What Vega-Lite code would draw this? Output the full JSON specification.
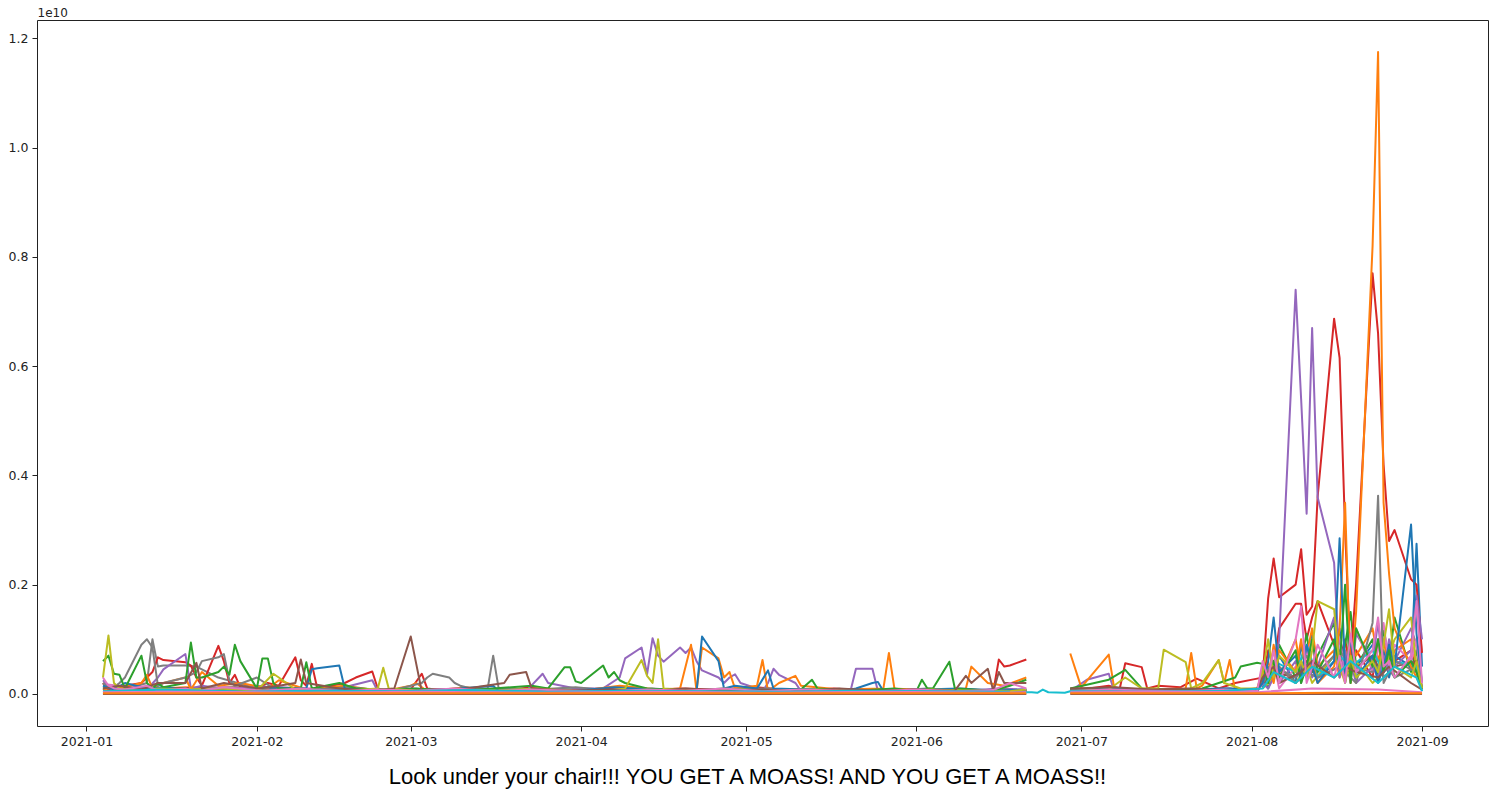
{
"$schema":"https://vega.github.io/schema/vega-lite/v6.json",
"width":1451,"height":706,
"autosize":{"type":"none"},
"padding":{"left":37,"top":20,"right":6,"bottom":64},
"background":"white",
"title":{"text":"Look under your chair!!! YOU GET A MOASS! AND YOU GET A MOASS!!","orient":"bottom","anchor":"middle","dx":-15,"offset":19,"font":"Liberation Sans","fontSize":22,"fontWeight":"normal","color":"#000"},
"config":{"view":{"stroke":"#222","strokeWidth":1},"axis":{"domain":false,"grid":false,"tickColor":"#222","tickSize":5,"labelFont":"DejaVu Sans","labelFontSize":12.5,"labelColor":"#222","labelPadding":4,"labelFlush":false,"labelOverlap":false}},
"datasets":{
"pre":[
{"s":"S","d":"2021-01-04","v":0.01},{"s":"S","d":"2021-01-08","v":0.008},{"s":"S","d":"2021-01-12","v":0.02},{"s":"S","d":"2021-01-13","v":0.1},{"s":"S","d":"2021-01-14","v":0.05},{"s":"S","d":"2021-01-15","v":0.052},{"s":"S","d":"2021-01-19","v":0.052},{"s":"S","d":"2021-01-21","v":0.05},{"s":"S","d":"2021-01-25","v":0.03},{"s":"S","d":"2021-02-01","v":0.01},{"s":"S","d":"2021-03-01","v":0.006},{"s":"S","d":"2021-04-05","v":0.008},{"s":"S","d":"2021-05-10","v":0.005},{"s":"S","d":"2021-06-21","v":0.006},
{"s":"L","d":"2021-01-04","v":0.012},{"s":"L","d":"2021-01-25","v":0.006},{"s":"L","d":"2021-02-16","v":0.01},{"s":"L","d":"2021-03-08","v":0.004},{"s":"L","d":"2021-03-29","v":0.008},{"s":"L","d":"2021-04-19","v":0.005},{"s":"L","d":"2021-05-10","v":0.009},{"s":"L","d":"2021-06-01","v":0.004},{"s":"L","d":"2021-06-21","v":0.007},
{"s":"N","d":"2021-01-04","v":0.004},{"s":"N","d":"2021-01-19","v":0.012},{"s":"N","d":"2021-02-08","v":0.005},{"s":"N","d":"2021-03-01","v":0.009},{"s":"N","d":"2021-03-22","v":0.004},{"s":"N","d":"2021-04-12","v":0.008},{"s":"N","d":"2021-05-03","v":0.004},{"s":"N","d":"2021-05-24","v":0.008},{"s":"N","d":"2021-06-14","v":0.004},{"s":"N","d":"2021-06-21","v":0.006},
{"s":"P","d":"2021-01-04","v":0.018},{"s":"P","d":"2021-01-15","v":0.006},{"s":"P","d":"2021-02-05","v":0.012},{"s":"P","d":"2021-02-26","v":0.004},{"s":"P","d":"2021-03-19","v":0.009},{"s":"P","d":"2021-04-09","v":0.005},{"s":"P","d":"2021-04-30","v":0.01},{"s":"P","d":"2021-05-21","v":0.004},{"s":"P","d":"2021-06-11","v":0.008},{"s":"P","d":"2021-06-21","v":0.004},
{"s":"R","d":"2021-01-04","v":0.008},{"s":"R","d":"2021-01-28","v":0.012},{"s":"R","d":"2021-02-18","v":0.004},{"s":"R","d":"2021-03-11","v":0.01},{"s":"R","d":"2021-04-01","v":0.005},{"s":"R","d":"2021-04-22","v":0.009},{"s":"R","d":"2021-05-13","v":0.004},{"s":"R","d":"2021-06-03","v":0.009},{"s":"R","d":"2021-06-21","v":0.005},
{"s":"T","d":"2021-01-04","v":0.01},{"s":"T","d":"2021-01-22","v":0.004},{"s":"T","d":"2021-02-12","v":0.008},{"s":"T","d":"2021-03-05","v":0.003},{"s":"T","d":"2021-03-26","v":0.007},{"s":"T","d":"2021-04-16","v":0.003},{"s":"T","d":"2021-05-07","v":0.006},{"s":"T","d":"2021-05-28","v":0.003},{"s":"T","d":"2021-06-18","v":0.006},{"s":"T","d":"2021-06-21","v":0.003},
{"s":"A","d":"2021-01-04","v":0.02},{"s":"A","d":"2021-01-05","v":0.008},{"s":"A","d":"2021-01-06","v":0.012},{"s":"A","d":"2021-01-07","v":0.006},{"s":"A","d":"2021-01-08","v":0.015},{"s":"A","d":"2021-01-11","v":0.02},{"s":"A","d":"2021-01-12","v":0.03},{"s":"A","d":"2021-01-13","v":0.04},{"s":"A","d":"2021-01-14","v":0.067},{"s":"A","d":"2021-01-15","v":0.062},{"s":"A","d":"2021-01-19","v":0.058},{"s":"A","d":"2021-01-20","v":0.052},{"s":"A","d":"2021-01-21","v":0.03},{"s":"A","d":"2021-01-22","v":0.015},{"s":"A","d":"2021-01-25","v":0.088},{"s":"A","d":"2021-01-26","v":0.06},{"s":"A","d":"2021-01-27","v":0.02},{"s":"A","d":"2021-01-28","v":0.035},{"s":"A","d":"2021-01-29","v":0.012},{"s":"A","d":"2021-02-01","v":0.01},{"s":"A","d":"2021-02-03","v":0.02},{"s":"A","d":"2021-02-05","v":0.015},{"s":"A","d":"2021-02-08","v":0.067},{"s":"A","d":"2021-02-09","v":0.025},{"s":"A","d":"2021-02-10","v":0.015},{"s":"A","d":"2021-02-11","v":0.055},{"s":"A","d":"2021-02-12","v":0.01},{"s":"A","d":"2021-02-17","v":0.02},{"s":"A","d":"2021-02-19","v":0.03},{"s":"A","d":"2021-02-22","v":0.041},{"s":"A","d":"2021-02-23","v":0.01},{"s":"A","d":"2021-02-25","v":0.006},{"s":"A","d":"2021-03-01","v":0.008},{"s":"A","d":"2021-03-03","v":0.037},{"s":"A","d":"2021-03-04","v":0.01},{"s":"A","d":"2021-03-08","v":0.005},{"s":"A","d":"2021-03-12","v":0.01},{"s":"A","d":"2021-03-17","v":0.005},{"s":"A","d":"2021-03-23","v":0.012},{"s":"A","d":"2021-03-29","v":0.006},{"s":"A","d":"2021-04-05","v":0.01},{"s":"A","d":"2021-04-12","v":0.005},{"s":"A","d":"2021-04-19","v":0.01},{"s":"A","d":"2021-04-26","v":0.008},{"s":"A","d":"2021-05-03","v":0.012},{"s":"A","d":"2021-05-10","v":0.006},{"s":"A","d":"2021-05-17","v":0.01},{"s":"A","d":"2021-05-24","v":0.005},{"s":"A","d":"2021-06-01","v":0.008},{"s":"A","d":"2021-06-07","v":0.006},{"s":"A","d":"2021-06-14","v":0.005},{"s":"A","d":"2021-06-15","v":0.005},{"s":"A","d":"2021-06-16","v":0.063},{"s":"A","d":"2021-06-17","v":0.05},{"s":"A","d":"2021-06-18","v":0.052},{"s":"A","d":"2021-06-21","v":0.063},
{"s":"B","d":"2021-01-04","v":0.025},{"s":"B","d":"2021-01-05","v":0.015},{"s":"B","d":"2021-01-06","v":0.005},{"s":"B","d":"2021-01-08","v":0.01},{"s":"B","d":"2021-01-12","v":0.008},{"s":"B","d":"2021-01-14","v":0.03},{"s":"B","d":"2021-01-15","v":0.045},{"s":"B","d":"2021-01-19","v":0.073},{"s":"B","d":"2021-01-20","v":0.01},{"s":"B","d":"2021-01-22","v":0.015},{"s":"B","d":"2021-01-27","v":0.008},{"s":"B","d":"2021-02-01","v":0.015},{"s":"B","d":"2021-02-08","v":0.006},{"s":"B","d":"2021-02-16","v":0.01},{"s":"B","d":"2021-02-22","v":0.025},{"s":"B","d":"2021-02-23","v":0.005},{"s":"B","d":"2021-03-01","v":0.01},{"s":"B","d":"2021-03-09","v":0.006},{"s":"B","d":"2021-03-16","v":0.01},{"s":"B","d":"2021-03-22","v":0.005},{"s":"B","d":"2021-03-25","v":0.037},{"s":"B","d":"2021-03-26","v":0.02},{"s":"B","d":"2021-03-31","v":0.01},{"s":"B","d":"2021-04-05","v":0.01},{"s":"B","d":"2021-04-08","v":0.03},{"s":"B","d":"2021-04-09","v":0.065},{"s":"B","d":"2021-04-12","v":0.085},{"s":"B","d":"2021-04-13","v":0.036},{"s":"B","d":"2021-04-14","v":0.102},{"s":"B","d":"2021-04-15","v":0.07},{"s":"B","d":"2021-04-16","v":0.059},{"s":"B","d":"2021-04-19","v":0.085},{"s":"B","d":"2021-04-20","v":0.075},{"s":"B","d":"2021-04-21","v":0.085},{"s":"B","d":"2021-04-22","v":0.06},{"s":"B","d":"2021-04-23","v":0.043},{"s":"B","d":"2021-04-26","v":0.03},{"s":"B","d":"2021-04-27","v":0.02},{"s":"B","d":"2021-04-28","v":0.03},{"s":"B","d":"2021-04-29","v":0.036},{"s":"B","d":"2021-04-30","v":0.02},{"s":"B","d":"2021-05-03","v":0.01},{"s":"B","d":"2021-05-04","v":0.005},{"s":"B","d":"2021-05-05","v":0.02},{"s":"B","d":"2021-05-06","v":0.046},{"s":"B","d":"2021-05-07","v":0.035},{"s":"B","d":"2021-05-10","v":0.02},{"s":"B","d":"2021-05-11","v":0.005},{"s":"B","d":"2021-05-14","v":0.01},{"s":"B","d":"2021-05-20","v":0.005},{"s":"B","d":"2021-05-21","v":0.046},{"s":"B","d":"2021-05-24","v":0.046},{"s":"B","d":"2021-05-25","v":0.005},{"s":"B","d":"2021-06-02","v":0.008},{"s":"B","d":"2021-06-09","v":0.005},{"s":"B","d":"2021-06-16","v":0.01},{"s":"B","d":"2021-06-21","v":0.008},
{"s":"C","d":"2021-01-04","v":0.01},{"s":"C","d":"2021-01-05","v":0.005},{"s":"C","d":"2021-01-07","v":0.01},{"s":"C","d":"2021-01-11","v":0.02},{"s":"C","d":"2021-01-12","v":0.035},{"s":"C","d":"2021-01-13","v":0.01},{"s":"C","d":"2021-01-15","v":0.02},{"s":"C","d":"2021-01-19","v":0.03},{"s":"C","d":"2021-01-20","v":0.008},{"s":"C","d":"2021-01-22","v":0.04},{"s":"C","d":"2021-01-25","v":0.015},{"s":"C","d":"2021-01-29","v":0.02},{"s":"C","d":"2021-02-03","v":0.01},{"s":"C","d":"2021-02-05","v":0.025},{"s":"C","d":"2021-02-10","v":0.008},{"s":"C","d":"2021-02-17","v":0.015},{"s":"C","d":"2021-02-24","v":0.005},{"s":"C","d":"2021-03-01","v":0.015},{"s":"C","d":"2021-03-02","v":0.02},{"s":"C","d":"2021-03-04","v":0.005},{"s":"C","d":"2021-03-11","v":0.012},{"s":"C","d":"2021-03-18","v":0.006},{"s":"C","d":"2021-03-25","v":0.01},{"s":"C","d":"2021-04-01","v":0.006},{"s":"C","d":"2021-04-08","v":0.015},{"s":"C","d":"2021-04-15","v":0.008},{"s":"C","d":"2021-04-19","v":0.01},{"s":"C","d":"2021-04-21","v":0.09},{"s":"C","d":"2021-04-22","v":0.005},{"s":"C","d":"2021-04-23","v":0.085},{"s":"C","d":"2021-04-26","v":0.065},{"s":"C","d":"2021-04-27","v":0.03},{"s":"C","d":"2021-04-28","v":0.04},{"s":"C","d":"2021-04-29","v":0.01},{"s":"C","d":"2021-05-03","v":0.015},{"s":"C","d":"2021-05-04","v":0.062},{"s":"C","d":"2021-05-05","v":0.005},{"s":"C","d":"2021-05-07","v":0.02},{"s":"C","d":"2021-05-10","v":0.033},{"s":"C","d":"2021-05-11","v":0.015},{"s":"C","d":"2021-05-18","v":0.008},{"s":"C","d":"2021-05-26","v":0.01},{"s":"C","d":"2021-05-27","v":0.075},{"s":"C","d":"2021-05-28","v":0.01},{"s":"C","d":"2021-06-04","v":0.006},{"s":"C","d":"2021-06-10","v":0.01},{"s":"C","d":"2021-06-11","v":0.05},{"s":"C","d":"2021-06-14","v":0.02},{"s":"C","d":"2021-06-17","v":0.015},{"s":"C","d":"2021-06-21","v":0.03},
{"s":"D","d":"2021-01-04","v":0.02},{"s":"D","d":"2021-01-05","v":0.01},{"s":"D","d":"2021-01-06","v":0.012},{"s":"D","d":"2021-01-07","v":0.02},{"s":"D","d":"2021-01-08","v":0.03},{"s":"D","d":"2021-01-11","v":0.09},{"s":"D","d":"2021-01-12","v":0.1},{"s":"D","d":"2021-01-13","v":0.085},{"s":"D","d":"2021-01-14","v":0.015},{"s":"D","d":"2021-01-15","v":0.02},{"s":"D","d":"2021-01-19","v":0.03},{"s":"D","d":"2021-01-21","v":0.04},{"s":"D","d":"2021-01-22","v":0.06},{"s":"D","d":"2021-01-25","v":0.067},{"s":"D","d":"2021-01-26","v":0.073},{"s":"D","d":"2021-01-27","v":0.025},{"s":"D","d":"2021-01-28","v":0.015},{"s":"D","d":"2021-02-01","v":0.03},{"s":"D","d":"2021-02-04","v":0.01},{"s":"D","d":"2021-02-11","v":0.008},{"s":"D","d":"2021-02-18","v":0.012},{"s":"D","d":"2021-02-25","v":0.005},{"s":"D","d":"2021-03-03","v":0.02},{"s":"D","d":"2021-03-04","v":0.03},{"s":"D","d":"2021-03-05","v":0.037},{"s":"D","d":"2021-03-08","v":0.03},{"s":"D","d":"2021-03-09","v":0.02},{"s":"D","d":"2021-03-10","v":0.015},{"s":"D","d":"2021-03-12","v":0.01},{"s":"D","d":"2021-03-15","v":0.01},{"s":"D","d":"2021-03-16","v":0.07},{"s":"D","d":"2021-03-17","v":0.01},{"s":"D","d":"2021-03-24","v":0.008},{"s":"D","d":"2021-03-31","v":0.012},{"s":"D","d":"2021-04-07","v":0.006},{"s":"D","d":"2021-04-14","v":0.01},{"s":"D","d":"2021-04-21","v":0.005},{"s":"D","d":"2021-04-28","v":0.008},{"s":"D","d":"2021-05-05","v":0.01},{"s":"D","d":"2021-05-12","v":0.006},{"s":"D","d":"2021-05-19","v":0.008},{"s":"D","d":"2021-05-26","v":0.005},{"s":"D","d":"2021-06-03","v":0.01},{"s":"D","d":"2021-06-10","v":0.006},{"s":"D","d":"2021-06-17","v":0.008},{"s":"D","d":"2021-06-21","v":0.005},
{"s":"E","d":"2021-01-04","v":0.015},{"s":"E","d":"2021-01-06","v":0.008},{"s":"E","d":"2021-01-08","v":0.02},{"s":"E","d":"2021-01-12","v":0.01},{"s":"E","d":"2021-01-15","v":0.012},{"s":"E","d":"2021-01-20","v":0.006},{"s":"E","d":"2021-01-25","v":0.01},{"s":"E","d":"2021-01-29","v":0.008},{"s":"E","d":"2021-02-03","v":0.012},{"s":"E","d":"2021-02-10","v":0.01},{"s":"E","d":"2021-02-11","v":0.045},{"s":"E","d":"2021-02-12","v":0.047},{"s":"E","d":"2021-02-16","v":0.052},{"s":"E","d":"2021-02-17","v":0.01},{"s":"E","d":"2021-02-19","v":0.008},{"s":"E","d":"2021-02-24","v":0.005},{"s":"E","d":"2021-03-03","v":0.006},{"s":"E","d":"2021-03-10","v":0.01},{"s":"E","d":"2021-03-16","v":0.015},{"s":"E","d":"2021-03-17","v":0.005},{"s":"E","d":"2021-03-24","v":0.008},{"s":"E","d":"2021-03-31","v":0.006},{"s":"E","d":"2021-04-07","v":0.012},{"s":"E","d":"2021-04-14","v":0.008},{"s":"E","d":"2021-04-21","v":0.006},{"s":"E","d":"2021-04-22","v":0.005},{"s":"E","d":"2021-04-23","v":0.105},{"s":"E","d":"2021-04-26","v":0.06},{"s":"E","d":"2021-04-27","v":0.01},{"s":"E","d":"2021-04-29","v":0.015},{"s":"E","d":"2021-05-03","v":0.01},{"s":"E","d":"2021-05-05","v":0.043},{"s":"E","d":"2021-05-06","v":0.01},{"s":"E","d":"2021-05-12","v":0.008},{"s":"E","d":"2021-05-19","v":0.006},{"s":"E","d":"2021-05-21","v":0.01},{"s":"E","d":"2021-05-24","v":0.02},{"s":"E","d":"2021-05-25","v":0.022},{"s":"E","d":"2021-05-26","v":0.005},{"s":"E","d":"2021-06-02","v":0.008},{"s":"E","d":"2021-06-09","v":0.01},{"s":"E","d":"2021-06-16","v":0.006},{"s":"E","d":"2021-06-21","v":0.008},
{"s":"F","d":"2021-01-04","v":0.06},{"s":"F","d":"2021-01-05","v":0.07},{"s":"F","d":"2021-01-06","v":0.037},{"s":"F","d":"2021-01-07","v":0.035},{"s":"F","d":"2021-01-08","v":0.01},{"s":"F","d":"2021-01-11","v":0.07},{"s":"F","d":"2021-01-12","v":0.02},{"s":"F","d":"2021-01-13","v":0.01},{"s":"F","d":"2021-01-14","v":0.02},{"s":"F","d":"2021-01-15","v":0.012},{"s":"F","d":"2021-01-19","v":0.02},{"s":"F","d":"2021-01-20","v":0.094},{"s":"F","d":"2021-01-21","v":0.03},{"s":"F","d":"2021-01-22","v":0.03},{"s":"F","d":"2021-01-25","v":0.04},{"s":"F","d":"2021-01-26","v":0.05},{"s":"F","d":"2021-01-27","v":0.035},{"s":"F","d":"2021-01-28","v":0.09},{"s":"F","d":"2021-01-29","v":0.06},{"s":"F","d":"2021-02-01","v":0.01},{"s":"F","d":"2021-02-02","v":0.065},{"s":"F","d":"2021-02-03","v":0.065},{"s":"F","d":"2021-02-04","v":0.02},{"s":"F","d":"2021-02-05","v":0.01},{"s":"F","d":"2021-02-09","v":0.01},{"s":"F","d":"2021-02-10","v":0.058},{"s":"F","d":"2021-02-11","v":0.01},{"s":"F","d":"2021-02-16","v":0.02},{"s":"F","d":"2021-02-19","v":0.01},{"s":"F","d":"2021-02-24","v":0.008},{"s":"F","d":"2021-03-02","v":0.01},{"s":"F","d":"2021-03-09","v":0.005},{"s":"F","d":"2021-03-16","v":0.01},{"s":"F","d":"2021-03-23","v":0.015},{"s":"F","d":"2021-03-26","v":0.01},{"s":"F","d":"2021-03-29","v":0.049},{"s":"F","d":"2021-03-30","v":0.049},{"s":"F","d":"2021-03-31","v":0.023},{"s":"F","d":"2021-04-01","v":0.02},{"s":"F","d":"2021-04-05","v":0.052},{"s":"F","d":"2021-04-06","v":0.03},{"s":"F","d":"2021-04-07","v":0.04},{"s":"F","d":"2021-04-08","v":0.025},{"s":"F","d":"2021-04-09","v":0.02},{"s":"F","d":"2021-04-13","v":0.01},{"s":"F","d":"2021-04-20","v":0.006},{"s":"F","d":"2021-04-27","v":0.01},{"s":"F","d":"2021-05-04","v":0.006},{"s":"F","d":"2021-05-11","v":0.008},{"s":"F","d":"2021-05-13","v":0.026},{"s":"F","d":"2021-05-14","v":0.01},{"s":"F","d":"2021-05-21","v":0.006},{"s":"F","d":"2021-05-28","v":0.01},{"s":"F","d":"2021-06-01","v":0.005},{"s":"F","d":"2021-06-02","v":0.026},{"s":"F","d":"2021-06-03","v":0.01},{"s":"F","d":"2021-06-04","v":0.01},{"s":"F","d":"2021-06-07","v":0.059},{"s":"F","d":"2021-06-08","v":0.01},{"s":"F","d":"2021-06-15","v":0.006},{"s":"F","d":"2021-06-18","v":0.015},{"s":"F","d":"2021-06-21","v":0.026},
{"s":"G","d":"2021-01-04","v":0.03},{"s":"G","d":"2021-01-05","v":0.107},{"s":"G","d":"2021-01-06","v":0.02},{"s":"G","d":"2021-01-07","v":0.01},{"s":"G","d":"2021-01-11","v":0.006},{"s":"G","d":"2021-01-14","v":0.01},{"s":"G","d":"2021-01-19","v":0.008},{"s":"G","d":"2021-01-25","v":0.01},{"s":"G","d":"2021-02-01","v":0.006},{"s":"G","d":"2021-02-04","v":0.037},{"s":"G","d":"2021-02-05","v":0.03},{"s":"G","d":"2021-02-08","v":0.008},{"s":"G","d":"2021-02-16","v":0.005},{"s":"G","d":"2021-02-23","v":0.01},{"s":"G","d":"2021-02-24","v":0.048},{"s":"G","d":"2021-02-25","v":0.01},{"s":"G","d":"2021-03-03","v":0.005},{"s":"G","d":"2021-03-10","v":0.008},{"s":"G","d":"2021-03-17","v":0.006},{"s":"G","d":"2021-03-24","v":0.01},{"s":"G","d":"2021-03-31","v":0.005},{"s":"G","d":"2021-04-05","v":0.005},{"s":"G","d":"2021-04-09","v":0.01},{"s":"G","d":"2021-04-12","v":0.062},{"s":"G","d":"2021-04-13","v":0.033},{"s":"G","d":"2021-04-14","v":0.02},{"s":"G","d":"2021-04-15","v":0.1},{"s":"G","d":"2021-04-16","v":0.01},{"s":"G","d":"2021-04-23","v":0.006},{"s":"G","d":"2021-04-30","v":0.008},{"s":"G","d":"2021-05-07","v":0.005},{"s":"G","d":"2021-05-14","v":0.008},{"s":"G","d":"2021-05-21","v":0.006},{"s":"G","d":"2021-05-28","v":0.005},{"s":"G","d":"2021-06-04","v":0.008},{"s":"G","d":"2021-06-11","v":0.006},{"s":"G","d":"2021-06-18","v":0.005},{"s":"G","d":"2021-06-21","v":0.008},
{"s":"H","d":"2021-01-04","v":0.01},{"s":"H","d":"2021-01-07","v":0.015},{"s":"H","d":"2021-01-11","v":0.008},{"s":"H","d":"2021-01-14","v":0.02},{"s":"H","d":"2021-01-19","v":0.02},{"s":"H","d":"2021-01-21","v":0.057},{"s":"H","d":"2021-01-22","v":0.01},{"s":"H","d":"2021-01-26","v":0.02},{"s":"H","d":"2021-02-01","v":0.01},{"s":"H","d":"2021-02-05","v":0.015},{"s":"H","d":"2021-02-08","v":0.02},{"s":"H","d":"2021-02-09","v":0.063},{"s":"H","d":"2021-02-10","v":0.02},{"s":"H","d":"2021-02-16","v":0.01},{"s":"H","d":"2021-02-22","v":0.006},{"s":"H","d":"2021-02-26","v":0.01},{"s":"H","d":"2021-03-01","v":0.105},{"s":"H","d":"2021-03-02","v":0.055},{"s":"H","d":"2021-03-03","v":0.005},{"s":"H","d":"2021-03-10","v":0.008},{"s":"H","d":"2021-03-18","v":0.02},{"s":"H","d":"2021-03-19","v":0.035},{"s":"H","d":"2021-03-22","v":0.04},{"s":"H","d":"2021-03-23","v":0.01},{"s":"H","d":"2021-03-30","v":0.006},{"s":"H","d":"2021-04-06","v":0.008},{"s":"H","d":"2021-04-13","v":0.005},{"s":"H","d":"2021-04-20","v":0.01},{"s":"H","d":"2021-04-27","v":0.006},{"s":"H","d":"2021-05-04","v":0.008},{"s":"H","d":"2021-05-11","v":0.005},{"s":"H","d":"2021-05-18","v":0.01},{"s":"H","d":"2021-05-25","v":0.006},{"s":"H","d":"2021-06-01","v":0.008},{"s":"H","d":"2021-06-08","v":0.006},{"s":"H","d":"2021-06-10","v":0.033},{"s":"H","d":"2021-06-11","v":0.02},{"s":"H","d":"2021-06-14","v":0.046},{"s":"H","d":"2021-06-15","v":0.005},{"s":"H","d":"2021-06-16","v":0.04},{"s":"H","d":"2021-06-17","v":0.02},{"s":"H","d":"2021-06-21","v":0.02},
{"s":"I","d":"2021-01-04","v":0.03},{"s":"I","d":"2021-01-05","v":0.015},{"s":"I","d":"2021-01-06","v":0.01},{"s":"I","d":"2021-01-08","v":0.008},{"s":"I","d":"2021-01-12","v":0.015},{"s":"I","d":"2021-01-14","v":0.006},{"s":"I","d":"2021-01-19","v":0.01},{"s":"I","d":"2021-01-21","v":0.005},{"s":"I","d":"2021-01-26","v":0.012},{"s":"I","d":"2021-02-02","v":0.006},{"s":"I","d":"2021-02-09","v":0.01},{"s":"I","d":"2021-02-16","v":0.005},{"s":"I","d":"2021-02-23","v":0.008},{"s":"I","d":"2021-03-02","v":0.006},{"s":"I","d":"2021-03-09","v":0.01},{"s":"I","d":"2021-03-16","v":0.005},{"s":"I","d":"2021-03-23","v":0.008},{"s":"I","d":"2021-03-30","v":0.006},{"s":"I","d":"2021-04-06","v":0.005},{"s":"I","d":"2021-04-13","v":0.008},{"s":"I","d":"2021-04-20","v":0.006},{"s":"I","d":"2021-04-27","v":0.01},{"s":"I","d":"2021-05-04","v":0.005},{"s":"I","d":"2021-05-11","v":0.008},{"s":"I","d":"2021-05-18","v":0.006},{"s":"I","d":"2021-05-25","v":0.005},{"s":"I","d":"2021-06-01","v":0.008},{"s":"I","d":"2021-06-08","v":0.005},{"s":"I","d":"2021-06-15","v":0.007},{"s":"I","d":"2021-06-18","v":0.02},{"s":"I","d":"2021-06-21","v":0.01},
{"s":"J","d":"2021-01-04","v":0.005},{"s":"J","d":"2021-01-15","v":0.008},{"s":"J","d":"2021-01-29","v":0.004},{"s":"J","d":"2021-02-12","v":0.006},{"s":"J","d":"2021-02-26","v":0.005},{"s":"J","d":"2021-03-12","v":0.007},{"s":"J","d":"2021-03-26","v":0.004},{"s":"J","d":"2021-04-09","v":0.006},{"s":"J","d":"2021-04-23","v":0.005},{"s":"J","d":"2021-05-07","v":0.004},{"s":"J","d":"2021-05-21","v":0.006},{"s":"J","d":"2021-06-04","v":0.005},{"s":"J","d":"2021-06-18","v":0.004},
{"s":"V","d":"2021-01-04","v":0.0},{"s":"V","d":"2021-03-01","v":0.0},{"s":"V","d":"2021-06-21","v":0.0},
{"s":"W","d":"2021-01-04","v":0.003},{"s":"W","d":"2021-01-20","v":0.004},{"s":"W","d":"2021-02-10","v":0.002},{"s":"W","d":"2021-03-03","v":0.004},{"s":"W","d":"2021-03-24","v":0.002},{"s":"W","d":"2021-04-14","v":0.004},{"s":"W","d":"2021-05-05","v":0.002},{"s":"W","d":"2021-05-26","v":0.004},{"s":"W","d":"2021-06-16","v":0.002},{"s":"W","d":"2021-06-21","v":0.003},
{"s":"U","d":"2021-01-04","v":0.001},{"s":"U","d":"2021-02-01","v":0.001},{"s":"U","d":"2021-03-01","v":0.001},{"s":"U","d":"2021-04-01","v":0.001},{"s":"U","d":"2021-05-03","v":0.001},{"s":"U","d":"2021-06-01","v":0.001},{"s":"U","d":"2021-06-21","v":0.001}
],
"post":[
{"s":"K","d":"2021-08-03","v":0.02},{"s":"K","d":"2021-08-04","v":0.08},{"s":"K","d":"2021-08-05","v":0.05},{"s":"K","d":"2021-08-06","v":0.12},{"s":"K","d":"2021-08-09","v":0.165},{"s":"K","d":"2021-08-10","v":0.165},{"s":"K","d":"2021-08-11","v":0.1},{"s":"K","d":"2021-08-12","v":0.14},{"s":"K","d":"2021-08-13","v":0.17},{"s":"K","d":"2021-08-16","v":0.09},{"s":"K","d":"2021-08-17","v":0.06},{"s":"K","d":"2021-08-18","v":0.1},{"s":"K","d":"2021-08-19","v":0.04},{"s":"K","d":"2021-08-20","v":0.08},{"s":"K","d":"2021-08-23","v":0.03},{"s":"K","d":"2021-08-24","v":0.1},{"s":"K","d":"2021-08-25","v":0.05},{"s":"K","d":"2021-08-26","v":0.09},{"s":"K","d":"2021-08-27","v":0.06},{"s":"K","d":"2021-08-30","v":0.08},{"s":"K","d":"2021-08-31","v":0.04},{"s":"K","d":"2021-09-01","v":0.01},
{"s":"L","d":"2021-06-29","v":0.006},{"s":"L","d":"2021-07-20","v":0.008},{"s":"L","d":"2021-08-02","v":0.005},{"s":"L","d":"2021-08-03","v":0.03},{"s":"L","d":"2021-08-04","v":0.01},{"s":"L","d":"2021-08-05","v":0.04},{"s":"L","d":"2021-08-06","v":0.09},{"s":"L","d":"2021-08-09","v":0.03},{"s":"L","d":"2021-08-10","v":0.06},{"s":"L","d":"2021-08-11","v":0.11},{"s":"L","d":"2021-08-12","v":0.04},{"s":"L","d":"2021-08-13","v":0.07},{"s":"L","d":"2021-08-16","v":0.13},{"s":"L","d":"2021-08-17","v":0.04},{"s":"L","d":"2021-08-18","v":0.09},{"s":"L","d":"2021-08-19","v":0.15},{"s":"L","d":"2021-08-20","v":0.05},{"s":"L","d":"2021-08-23","v":0.1},{"s":"L","d":"2021-08-24","v":0.03},{"s":"L","d":"2021-08-25","v":0.12},{"s":"L","d":"2021-08-26","v":0.06},{"s":"L","d":"2021-08-27","v":0.14},{"s":"L","d":"2021-08-30","v":0.04},{"s":"L","d":"2021-08-31","v":0.08},{"s":"L","d":"2021-09-01","v":0.01},
{"s":"M","d":"2021-08-03","v":0.01},{"s":"M","d":"2021-08-04","v":0.05},{"s":"M","d":"2021-08-05","v":0.03},{"s":"M","d":"2021-08-06","v":0.07},{"s":"M","d":"2021-08-09","v":0.02},{"s":"M","d":"2021-08-10","v":0.09},{"s":"M","d":"2021-08-11","v":0.04},{"s":"M","d":"2021-08-12","v":0.11},{"s":"M","d":"2021-08-13","v":0.03},{"s":"M","d":"2021-08-16","v":0.07},{"s":"M","d":"2021-08-17","v":0.12},{"s":"M","d":"2021-08-18","v":0.02},{"s":"M","d":"2021-08-19","v":0.08},{"s":"M","d":"2021-08-20","v":0.05},{"s":"M","d":"2021-08-23","v":0.09},{"s":"M","d":"2021-08-24","v":0.04},{"s":"M","d":"2021-08-25","v":0.08},{"s":"M","d":"2021-08-26","v":0.03},{"s":"M","d":"2021-08-27","v":0.07},{"s":"M","d":"2021-08-30","v":0.05},{"s":"M","d":"2021-08-31","v":0.275},{"s":"M","d":"2021-09-01","v":0.05},
{"s":"N","d":"2021-06-29","v":0.004},{"s":"N","d":"2021-07-14","v":0.009},{"s":"N","d":"2021-08-02","v":0.006},{"s":"N","d":"2021-08-03","v":0.05},{"s":"N","d":"2021-08-04","v":0.02},{"s":"N","d":"2021-08-05","v":0.09},{"s":"N","d":"2021-08-06","v":0.03},{"s":"N","d":"2021-08-09","v":0.1},{"s":"N","d":"2021-08-10","v":0.04},{"s":"N","d":"2021-08-11","v":0.07},{"s":"N","d":"2021-08-12","v":0.12},{"s":"N","d":"2021-08-13","v":0.05},{"s":"N","d":"2021-08-16","v":0.08},{"s":"N","d":"2021-08-17","v":0.03},{"s":"N","d":"2021-08-18","v":0.06},{"s":"N","d":"2021-08-19","v":0.1},{"s":"N","d":"2021-08-20","v":0.07},{"s":"N","d":"2021-08-23","v":0.12},{"s":"N","d":"2021-08-24","v":0.06},{"s":"N","d":"2021-08-25","v":0.1},{"s":"N","d":"2021-08-26","v":0.04},{"s":"N","d":"2021-08-27","v":0.08},{"s":"N","d":"2021-08-30","v":0.1},{"s":"N","d":"2021-08-31","v":0.05},{"s":"N","d":"2021-09-01","v":0.01},
{"s":"O","d":"2021-08-03","v":0.02},{"s":"O","d":"2021-08-05","v":0.05},{"s":"O","d":"2021-08-06","v":0.02},{"s":"O","d":"2021-08-09","v":0.06},{"s":"O","d":"2021-08-10","v":0.02},{"s":"O","d":"2021-08-11","v":0.08},{"s":"O","d":"2021-08-12","v":0.03},{"s":"O","d":"2021-08-13","v":0.05},{"s":"O","d":"2021-08-16","v":0.14},{"s":"O","d":"2021-08-17","v":0.03},{"s":"O","d":"2021-08-18","v":0.08},{"s":"O","d":"2021-08-19","v":0.02},{"s":"O","d":"2021-08-20","v":0.11},{"s":"O","d":"2021-08-23","v":0.06},{"s":"O","d":"2021-08-24","v":0.13},{"s":"O","d":"2021-08-25","v":0.04},{"s":"O","d":"2021-08-26","v":0.1},{"s":"O","d":"2021-08-27","v":0.06},{"s":"O","d":"2021-08-30","v":0.12},{"s":"O","d":"2021-08-31","v":0.09},{"s":"O","d":"2021-09-01","v":0.02},
{"s":"P","d":"2021-06-29","v":0.005},{"s":"P","d":"2021-07-16","v":0.007},{"s":"P","d":"2021-08-02","v":0.004},{"s":"P","d":"2021-08-03","v":0.04},{"s":"P","d":"2021-08-04","v":0.02},{"s":"P","d":"2021-08-05","v":0.06},{"s":"P","d":"2021-08-06","v":0.01},{"s":"P","d":"2021-08-09","v":0.05},{"s":"P","d":"2021-08-10","v":0.03},{"s":"P","d":"2021-08-11","v":0.07},{"s":"P","d":"2021-08-12","v":0.1},{"s":"P","d":"2021-08-13","v":0.02},{"s":"P","d":"2021-08-16","v":0.06},{"s":"P","d":"2021-08-17","v":0.1},{"s":"P","d":"2021-08-18","v":0.04},{"s":"P","d":"2021-08-19","v":0.07},{"s":"P","d":"2021-08-20","v":0.12},{"s":"P","d":"2021-08-23","v":0.04},{"s":"P","d":"2021-08-24","v":0.08},{"s":"P","d":"2021-08-25","v":0.13},{"s":"P","d":"2021-08-26","v":0.05},{"s":"P","d":"2021-08-27","v":0.09},{"s":"P","d":"2021-08-30","v":0.06},{"s":"P","d":"2021-08-31","v":0.1},{"s":"P","d":"2021-09-01","v":0.01},
{"s":"Q","d":"2021-08-03","v":0.01},{"s":"Q","d":"2021-08-05","v":0.03},{"s":"Q","d":"2021-08-06","v":0.05},{"s":"Q","d":"2021-08-09","v":0.02},{"s":"Q","d":"2021-08-11","v":0.05},{"s":"Q","d":"2021-08-12","v":0.02},{"s":"Q","d":"2021-08-16","v":0.07},{"s":"Q","d":"2021-08-18","v":0.03},{"s":"Q","d":"2021-08-20","v":0.06},{"s":"Q","d":"2021-08-23","v":0.02},{"s":"Q","d":"2021-08-25","v":0.04},{"s":"Q","d":"2021-08-27","v":0.1},{"s":"Q","d":"2021-08-30","v":0.14},{"s":"Q","d":"2021-08-31","v":0.05},{"s":"Q","d":"2021-09-01","v":0.01},
{"s":"R","d":"2021-06-29","v":0.007},{"s":"R","d":"2021-07-22","v":0.005},{"s":"R","d":"2021-08-02","v":0.006},{"s":"R","d":"2021-08-03","v":0.02},{"s":"R","d":"2021-08-05","v":0.04},{"s":"R","d":"2021-08-09","v":0.03},{"s":"R","d":"2021-08-11","v":0.06},{"s":"R","d":"2021-08-13","v":0.03},{"s":"R","d":"2021-08-17","v":0.05},{"s":"R","d":"2021-08-19","v":0.04},{"s":"R","d":"2021-08-23","v":0.07},{"s":"R","d":"2021-08-25","v":0.03},{"s":"R","d":"2021-08-27","v":0.05},{"s":"R","d":"2021-08-31","v":0.06},{"s":"R","d":"2021-09-01","v":0.01},
{"s":"S","d":"2021-06-29","v":0.005},{"s":"S","d":"2021-07-19","v":0.008},{"s":"S","d":"2021-08-02","v":0.004},{"s":"S","d":"2021-08-03","v":0.02},{"s":"S","d":"2021-08-05","v":0.05},{"s":"S","d":"2021-08-09","v":0.03},{"s":"S","d":"2021-08-11","v":0.07},{"s":"S","d":"2021-08-13","v":0.04},{"s":"S","d":"2021-08-17","v":0.08},{"s":"S","d":"2021-08-19","v":0.05},{"s":"S","d":"2021-08-23","v":0.04},{"s":"S","d":"2021-08-25","v":0.06},{"s":"S","d":"2021-08-27","v":0.03},{"s":"S","d":"2021-08-31","v":0.05},{"s":"S","d":"2021-09-01","v":0.01},
{"s":"T","d":"2021-06-29","v":0.003},{"s":"T","d":"2021-07-12","v":0.006},{"s":"T","d":"2021-08-02","v":0.004},{"s":"T","d":"2021-08-03","v":0.03},{"s":"T","d":"2021-08-05","v":0.06},{"s":"T","d":"2021-08-09","v":0.04},{"s":"T","d":"2021-08-11","v":0.09},{"s":"T","d":"2021-08-13","v":0.03},{"s":"T","d":"2021-08-17","v":0.07},{"s":"T","d":"2021-08-19","v":0.05},{"s":"T","d":"2021-08-23","v":0.08},{"s":"T","d":"2021-08-25","v":0.04},{"s":"T","d":"2021-08-27","v":0.06},{"s":"T","d":"2021-08-31","v":0.05},{"s":"T","d":"2021-09-01","v":0.005},
{"s":"A","d":"2021-06-29","v":0.01},{"s":"A","d":"2021-07-01","v":0.008},{"s":"A","d":"2021-07-06","v":0.015},{"s":"A","d":"2021-07-08","v":0.01},{"s":"A","d":"2021-07-09","v":0.056},{"s":"A","d":"2021-07-12","v":0.049},{"s":"A","d":"2021-07-13","v":0.01},{"s":"A","d":"2021-07-15","v":0.015},{"s":"A","d":"2021-07-19","v":0.012},{"s":"A","d":"2021-07-22","v":0.028},{"s":"A","d":"2021-07-26","v":0.01},{"s":"A","d":"2021-07-29","v":0.02},{"s":"A","d":"2021-08-02","v":0.028},{"s":"A","d":"2021-08-03","v":0.03},{"s":"A","d":"2021-08-04","v":0.175},{"s":"A","d":"2021-08-05","v":0.248},{"s":"A","d":"2021-08-06","v":0.177},{"s":"A","d":"2021-08-09","v":0.2},{"s":"A","d":"2021-08-10","v":0.265},{"s":"A","d":"2021-08-11","v":0.145},{"s":"A","d":"2021-08-12","v":0.16},{"s":"A","d":"2021-08-13","v":0.36},{"s":"A","d":"2021-08-16","v":0.687},{"s":"A","d":"2021-08-17","v":0.615},{"s":"A","d":"2021-08-18","v":0.3},{"s":"A","d":"2021-08-19","v":0.06},{"s":"A","d":"2021-08-20","v":0.2},{"s":"A","d":"2021-08-23","v":0.77},{"s":"A","d":"2021-08-24","v":0.66},{"s":"A","d":"2021-08-25","v":0.42},{"s":"A","d":"2021-08-26","v":0.28},{"s":"A","d":"2021-08-27","v":0.3},{"s":"A","d":"2021-08-30","v":0.21},{"s":"A","d":"2021-08-31","v":0.2},{"s":"A","d":"2021-09-01","v":0.075},
{"s":"B","d":"2021-06-29","v":0.005},{"s":"B","d":"2021-07-02","v":0.026},{"s":"B","d":"2021-07-06","v":0.037},{"s":"B","d":"2021-07-07","v":0.005},{"s":"B","d":"2021-07-14","v":0.008},{"s":"B","d":"2021-07-21","v":0.006},{"s":"B","d":"2021-07-28","v":0.01},{"s":"B","d":"2021-08-02","v":0.005},{"s":"B","d":"2021-08-03","v":0.02},{"s":"B","d":"2021-08-04","v":0.01},{"s":"B","d":"2021-08-05","v":0.03},{"s":"B","d":"2021-08-06","v":0.1},{"s":"B","d":"2021-08-09","v":0.74},{"s":"B","d":"2021-08-10","v":0.54},{"s":"B","d":"2021-08-11","v":0.33},{"s":"B","d":"2021-08-12","v":0.67},{"s":"B","d":"2021-08-13","v":0.36},{"s":"B","d":"2021-08-16","v":0.24},{"s":"B","d":"2021-08-17","v":0.05},{"s":"B","d":"2021-08-18","v":0.03},{"s":"B","d":"2021-08-19","v":0.06},{"s":"B","d":"2021-08-20","v":0.02},{"s":"B","d":"2021-08-23","v":0.05},{"s":"B","d":"2021-08-24","v":0.03},{"s":"B","d":"2021-08-25","v":0.07},{"s":"B","d":"2021-08-26","v":0.04},{"s":"B","d":"2021-08-27","v":0.05},{"s":"B","d":"2021-08-30","v":0.08},{"s":"B","d":"2021-08-31","v":0.18},{"s":"B","d":"2021-09-01","v":0.1},
{"s":"C","d":"2021-06-29","v":0.074},{"s":"C","d":"2021-07-01","v":0.012},{"s":"C","d":"2021-07-06","v":0.072},{"s":"C","d":"2021-07-07","v":0.01},{"s":"C","d":"2021-07-13","v":0.008},{"s":"C","d":"2021-07-20","v":0.01},{"s":"C","d":"2021-07-21","v":0.075},{"s":"C","d":"2021-07-22","v":0.01},{"s":"C","d":"2021-07-23","v":0.015},{"s":"C","d":"2021-07-26","v":0.062},{"s":"C","d":"2021-07-27","v":0.02},{"s":"C","d":"2021-07-28","v":0.062},{"s":"C","d":"2021-07-29","v":0.005},{"s":"C","d":"2021-08-02","v":0.01},{"s":"C","d":"2021-08-03","v":0.03},{"s":"C","d":"2021-08-04","v":0.06},{"s":"C","d":"2021-08-05","v":0.02},{"s":"C","d":"2021-08-06","v":0.08},{"s":"C","d":"2021-08-09","v":0.04},{"s":"C","d":"2021-08-10","v":0.1},{"s":"C","d":"2021-08-11","v":0.03},{"s":"C","d":"2021-08-12","v":0.06},{"s":"C","d":"2021-08-13","v":0.02},{"s":"C","d":"2021-08-16","v":0.05},{"s":"C","d":"2021-08-17","v":0.12},{"s":"C","d":"2021-08-18","v":0.35},{"s":"C","d":"2021-08-19","v":0.02},{"s":"C","d":"2021-08-20","v":0.15},{"s":"C","d":"2021-08-23","v":0.82},{"s":"C","d":"2021-08-24","v":1.175},{"s":"C","d":"2021-08-25","v":0.35},{"s":"C","d":"2021-08-26","v":0.22},{"s":"C","d":"2021-08-27","v":0.12},{"s":"C","d":"2021-08-30","v":0.05},{"s":"C","d":"2021-08-31","v":0.03},{"s":"C","d":"2021-09-01","v":0.01},
{"s":"D","d":"2021-06-29","v":0.008},{"s":"D","d":"2021-07-07","v":0.01},{"s":"D","d":"2021-07-14","v":0.006},{"s":"D","d":"2021-07-21","v":0.008},{"s":"D","d":"2021-07-28","v":0.01},{"s":"D","d":"2021-08-02","v":0.005},{"s":"D","d":"2021-08-03","v":0.03},{"s":"D","d":"2021-08-05","v":0.06},{"s":"D","d":"2021-08-09","v":0.02},{"s":"D","d":"2021-08-11","v":0.04},{"s":"D","d":"2021-08-13","v":0.03},{"s":"D","d":"2021-08-17","v":0.05},{"s":"D","d":"2021-08-19","v":0.03},{"s":"D","d":"2021-08-20","v":0.02},{"s":"D","d":"2021-08-23","v":0.13},{"s":"D","d":"2021-08-24","v":0.363},{"s":"D","d":"2021-08-25","v":0.02},{"s":"D","d":"2021-08-27","v":0.06},{"s":"D","d":"2021-08-31","v":0.04},{"s":"D","d":"2021-09-01","v":0.01},
{"s":"E","d":"2021-06-29","v":0.005},{"s":"E","d":"2021-07-06","v":0.01},{"s":"E","d":"2021-07-13","v":0.006},{"s":"E","d":"2021-07-20","v":0.008},{"s":"E","d":"2021-07-27","v":0.01},{"s":"E","d":"2021-08-02","v":0.008},{"s":"E","d":"2021-08-03","v":0.02},{"s":"E","d":"2021-08-04","v":0.06},{"s":"E","d":"2021-08-05","v":0.14},{"s":"E","d":"2021-08-06","v":0.04},{"s":"E","d":"2021-08-09","v":0.07},{"s":"E","d":"2021-08-10","v":0.03},{"s":"E","d":"2021-08-11","v":0.09},{"s":"E","d":"2021-08-12","v":0.05},{"s":"E","d":"2021-08-13","v":0.02},{"s":"E","d":"2021-08-16","v":0.06},{"s":"E","d":"2021-08-17","v":0.285},{"s":"E","d":"2021-08-18","v":0.04},{"s":"E","d":"2021-08-19","v":0.1},{"s":"E","d":"2021-08-20","v":0.03},{"s":"E","d":"2021-08-23","v":0.07},{"s":"E","d":"2021-08-24","v":0.02},{"s":"E","d":"2021-08-25","v":0.05},{"s":"E","d":"2021-08-26","v":0.09},{"s":"E","d":"2021-08-27","v":0.05},{"s":"E","d":"2021-08-30","v":0.31},{"s":"E","d":"2021-08-31","v":0.11},{"s":"E","d":"2021-09-01","v":0.02},
{"s":"F","d":"2021-06-29","v":0.01},{"s":"F","d":"2021-07-06","v":0.026},{"s":"F","d":"2021-07-09","v":0.044},{"s":"F","d":"2021-07-12","v":0.01},{"s":"F","d":"2021-07-16","v":0.008},{"s":"F","d":"2021-07-23","v":0.01},{"s":"F","d":"2021-07-29","v":0.03},{"s":"F","d":"2021-07-30","v":0.05},{"s":"F","d":"2021-08-02","v":0.057},{"s":"F","d":"2021-08-03","v":0.055},{"s":"F","d":"2021-08-04","v":0.02},{"s":"F","d":"2021-08-05","v":0.06},{"s":"F","d":"2021-08-06","v":0.03},{"s":"F","d":"2021-08-09","v":0.08},{"s":"F","d":"2021-08-10","v":0.02},{"s":"F","d":"2021-08-11","v":0.05},{"s":"F","d":"2021-08-12","v":0.1},{"s":"F","d":"2021-08-13","v":0.04},{"s":"F","d":"2021-08-16","v":0.1},{"s":"F","d":"2021-08-17","v":0.05},{"s":"F","d":"2021-08-18","v":0.2},{"s":"F","d":"2021-08-19","v":0.02},{"s":"F","d":"2021-08-20","v":0.12},{"s":"F","d":"2021-08-23","v":0.05},{"s":"F","d":"2021-08-24","v":0.1},{"s":"F","d":"2021-08-25","v":0.04},{"s":"F","d":"2021-08-26","v":0.08},{"s":"F","d":"2021-08-27","v":0.03},{"s":"F","d":"2021-08-30","v":0.06},{"s":"F","d":"2021-08-31","v":0.04},{"s":"F","d":"2021-09-01","v":0.01},
{"s":"G","d":"2021-06-29","v":0.005},{"s":"G","d":"2021-07-06","v":0.008},{"s":"G","d":"2021-07-09","v":0.03},{"s":"G","d":"2021-07-12","v":0.01},{"s":"G","d":"2021-07-15","v":0.01},{"s":"G","d":"2021-07-16","v":0.081},{"s":"G","d":"2021-07-20","v":0.058},{"s":"G","d":"2021-07-21","v":0.01},{"s":"G","d":"2021-07-23","v":0.02},{"s":"G","d":"2021-07-26","v":0.062},{"s":"G","d":"2021-07-27","v":0.02},{"s":"G","d":"2021-07-30","v":0.01},{"s":"G","d":"2021-08-02","v":0.01},{"s":"G","d":"2021-08-03","v":0.04},{"s":"G","d":"2021-08-04","v":0.1},{"s":"G","d":"2021-08-05","v":0.03},{"s":"G","d":"2021-08-06","v":0.07},{"s":"G","d":"2021-08-09","v":0.04},{"s":"G","d":"2021-08-10","v":0.06},{"s":"G","d":"2021-08-11","v":0.03},{"s":"G","d":"2021-08-12","v":0.08},{"s":"G","d":"2021-08-13","v":0.17},{"s":"G","d":"2021-08-16","v":0.155},{"s":"G","d":"2021-08-17","v":0.05},{"s":"G","d":"2021-08-18","v":0.02},{"s":"G","d":"2021-08-19","v":0.07},{"s":"G","d":"2021-08-20","v":0.03},{"s":"G","d":"2021-08-23","v":0.06},{"s":"G","d":"2021-08-24","v":0.04},{"s":"G","d":"2021-08-25","v":0.09},{"s":"G","d":"2021-08-26","v":0.155},{"s":"G","d":"2021-08-27","v":0.05},{"s":"G","d":"2021-08-30","v":0.03},{"s":"G","d":"2021-08-31","v":0.06},{"s":"G","d":"2021-09-01","v":0.01},
{"s":"H","d":"2021-06-29","v":0.01},{"s":"H","d":"2021-07-07","v":0.012},{"s":"H","d":"2021-07-14","v":0.008},{"s":"H","d":"2021-07-21","v":0.01},{"s":"H","d":"2021-07-28","v":0.006},{"s":"H","d":"2021-08-02","v":0.01},{"s":"H","d":"2021-08-03","v":0.03},{"s":"H","d":"2021-08-05","v":0.05},{"s":"H","d":"2021-08-06","v":0.02},{"s":"H","d":"2021-08-10","v":0.04},{"s":"H","d":"2021-08-12","v":0.06},{"s":"H","d":"2021-08-16","v":0.03},{"s":"H","d":"2021-08-18","v":0.05},{"s":"H","d":"2021-08-20","v":0.04},{"s":"H","d":"2021-08-24","v":0.03},{"s":"H","d":"2021-08-26","v":0.05},{"s":"H","d":"2021-08-30","v":0.02},{"s":"H","d":"2021-09-01","v":0.008},
{"s":"I","d":"2021-06-29","v":0.005},{"s":"I","d":"2021-07-06","v":0.008},{"s":"I","d":"2021-07-13","v":0.006},{"s":"I","d":"2021-07-20","v":0.005},{"s":"I","d":"2021-07-27","v":0.008},{"s":"I","d":"2021-08-02","v":0.005},{"s":"I","d":"2021-08-03","v":0.06},{"s":"I","d":"2021-08-04","v":0.03},{"s":"I","d":"2021-08-05","v":0.08},{"s":"I","d":"2021-08-06","v":0.02},{"s":"I","d":"2021-08-09","v":0.1},{"s":"I","d":"2021-08-10","v":0.16},{"s":"I","d":"2021-08-11","v":0.02},{"s":"I","d":"2021-08-12","v":0.05},{"s":"I","d":"2021-08-13","v":0.09},{"s":"I","d":"2021-08-16","v":0.03},{"s":"I","d":"2021-08-17","v":0.07},{"s":"I","d":"2021-08-18","v":0.02},{"s":"I","d":"2021-08-19","v":0.11},{"s":"I","d":"2021-08-20","v":0.04},{"s":"I","d":"2021-08-23","v":0.08},{"s":"I","d":"2021-08-24","v":0.14},{"s":"I","d":"2021-08-25","v":0.05},{"s":"I","d":"2021-08-26","v":0.06},{"s":"I","d":"2021-08-27","v":0.03},{"s":"I","d":"2021-08-30","v":0.07},{"s":"I","d":"2021-08-31","v":0.17},{"s":"I","d":"2021-09-01","v":0.02},
{"s":"J","d":"2021-06-21","v":0.003},{"s":"J","d":"2021-06-22","v":0.003},{"s":"J","d":"2021-06-23","v":0.002},{"s":"J","d":"2021-06-24","v":0.008},{"s":"J","d":"2021-06-25","v":0.003},{"s":"J","d":"2021-06-28","v":0.002},{"s":"J","d":"2021-06-29","v":0.005},{"s":"J","d":"2021-07-13","v":0.004},{"s":"J","d":"2021-07-27","v":0.006},{"s":"J","d":"2021-08-03","v":0.01},{"s":"J","d":"2021-08-05","v":0.04},{"s":"J","d":"2021-08-09","v":0.02},{"s":"J","d":"2021-08-12","v":0.05},{"s":"J","d":"2021-08-16","v":0.03},{"s":"J","d":"2021-08-19","v":0.06},{"s":"J","d":"2021-08-24","v":0.02},{"s":"J","d":"2021-08-27","v":0.05},{"s":"J","d":"2021-08-31","v":0.03},{"s":"J","d":"2021-09-01","v":0.005},
{"s":"V","d":"2021-06-29","v":0.0},{"s":"V","d":"2021-09-01","v":0.0},
{"s":"W","d":"2021-06-29","v":0.003},{"s":"W","d":"2021-07-21","v":0.004},{"s":"W","d":"2021-08-02","v":0.003},{"s":"W","d":"2021-08-12","v":0.01},{"s":"W","d":"2021-08-24","v":0.008},{"s":"W","d":"2021-09-01","v":0.003},
{"s":"U","d":"2021-06-29","v":0.001},{"s":"U","d":"2021-08-02","v":0.001},{"s":"U","d":"2021-08-16","v":0.002},{"s":"U","d":"2021-09-01","v":0.001}
]
},
"encoding":{
"x":{"field":"d","type":"temporal","scale":{"type":"utc","domain":[{"year":2020,"month":12,"date":23,"utc":true},{"year":2021,"month":9,"date":13,"utc":true}]},"axis":{"format":"%Y-%m","tickCount":{"interval":"month","step":1},"title":null}},
"y":{"field":"v","type":"quantitative","scale":{"domain":[-0.05875,1.23375],"nice":false,"zero":false},"axis":{"values":[0,0.2,0.4,0.6,0.8,1.0,1.2],"format":".1f","title":"1e10","titleAngle":0,"titleX":0,"titleY":-4,"titleAlign":"left","titleBaseline":"alphabetic","titleFont":"DejaVu Sans","titleFontSize":12,"titleFontWeight":"normal","titleColor":"#222"}},
"color":{"field":"s","type":"nominal","legend":null,"scale":{"domain":["S","K","L","M","N","O","P","Q","R","T","A","B","C","D","E","F","G","H","I","J","V","W","U"],"range":["#7f7f7f","#d62728","#2ca02c","#1f77b4","#ff7f0e","#9467bd","#e377c2","#bcbd22","#8c564b","#17becf","#d62728","#9467bd","#ff7f0e","#7f7f7f","#1f77b4","#2ca02c","#bcbd22","#8c564b","#e377c2","#17becf","#8c564b","#e377c2","#ff7f0e"]}}
},
"layer":[
{"data":{"name":"pre"},"mark":{"type":"line","strokeWidth":2,"strokeJoin":"round","clip":true}},
{"data":{"name":"post"},"mark":{"type":"line","strokeWidth":2,"strokeJoin":"round","clip":true}}
]
}
